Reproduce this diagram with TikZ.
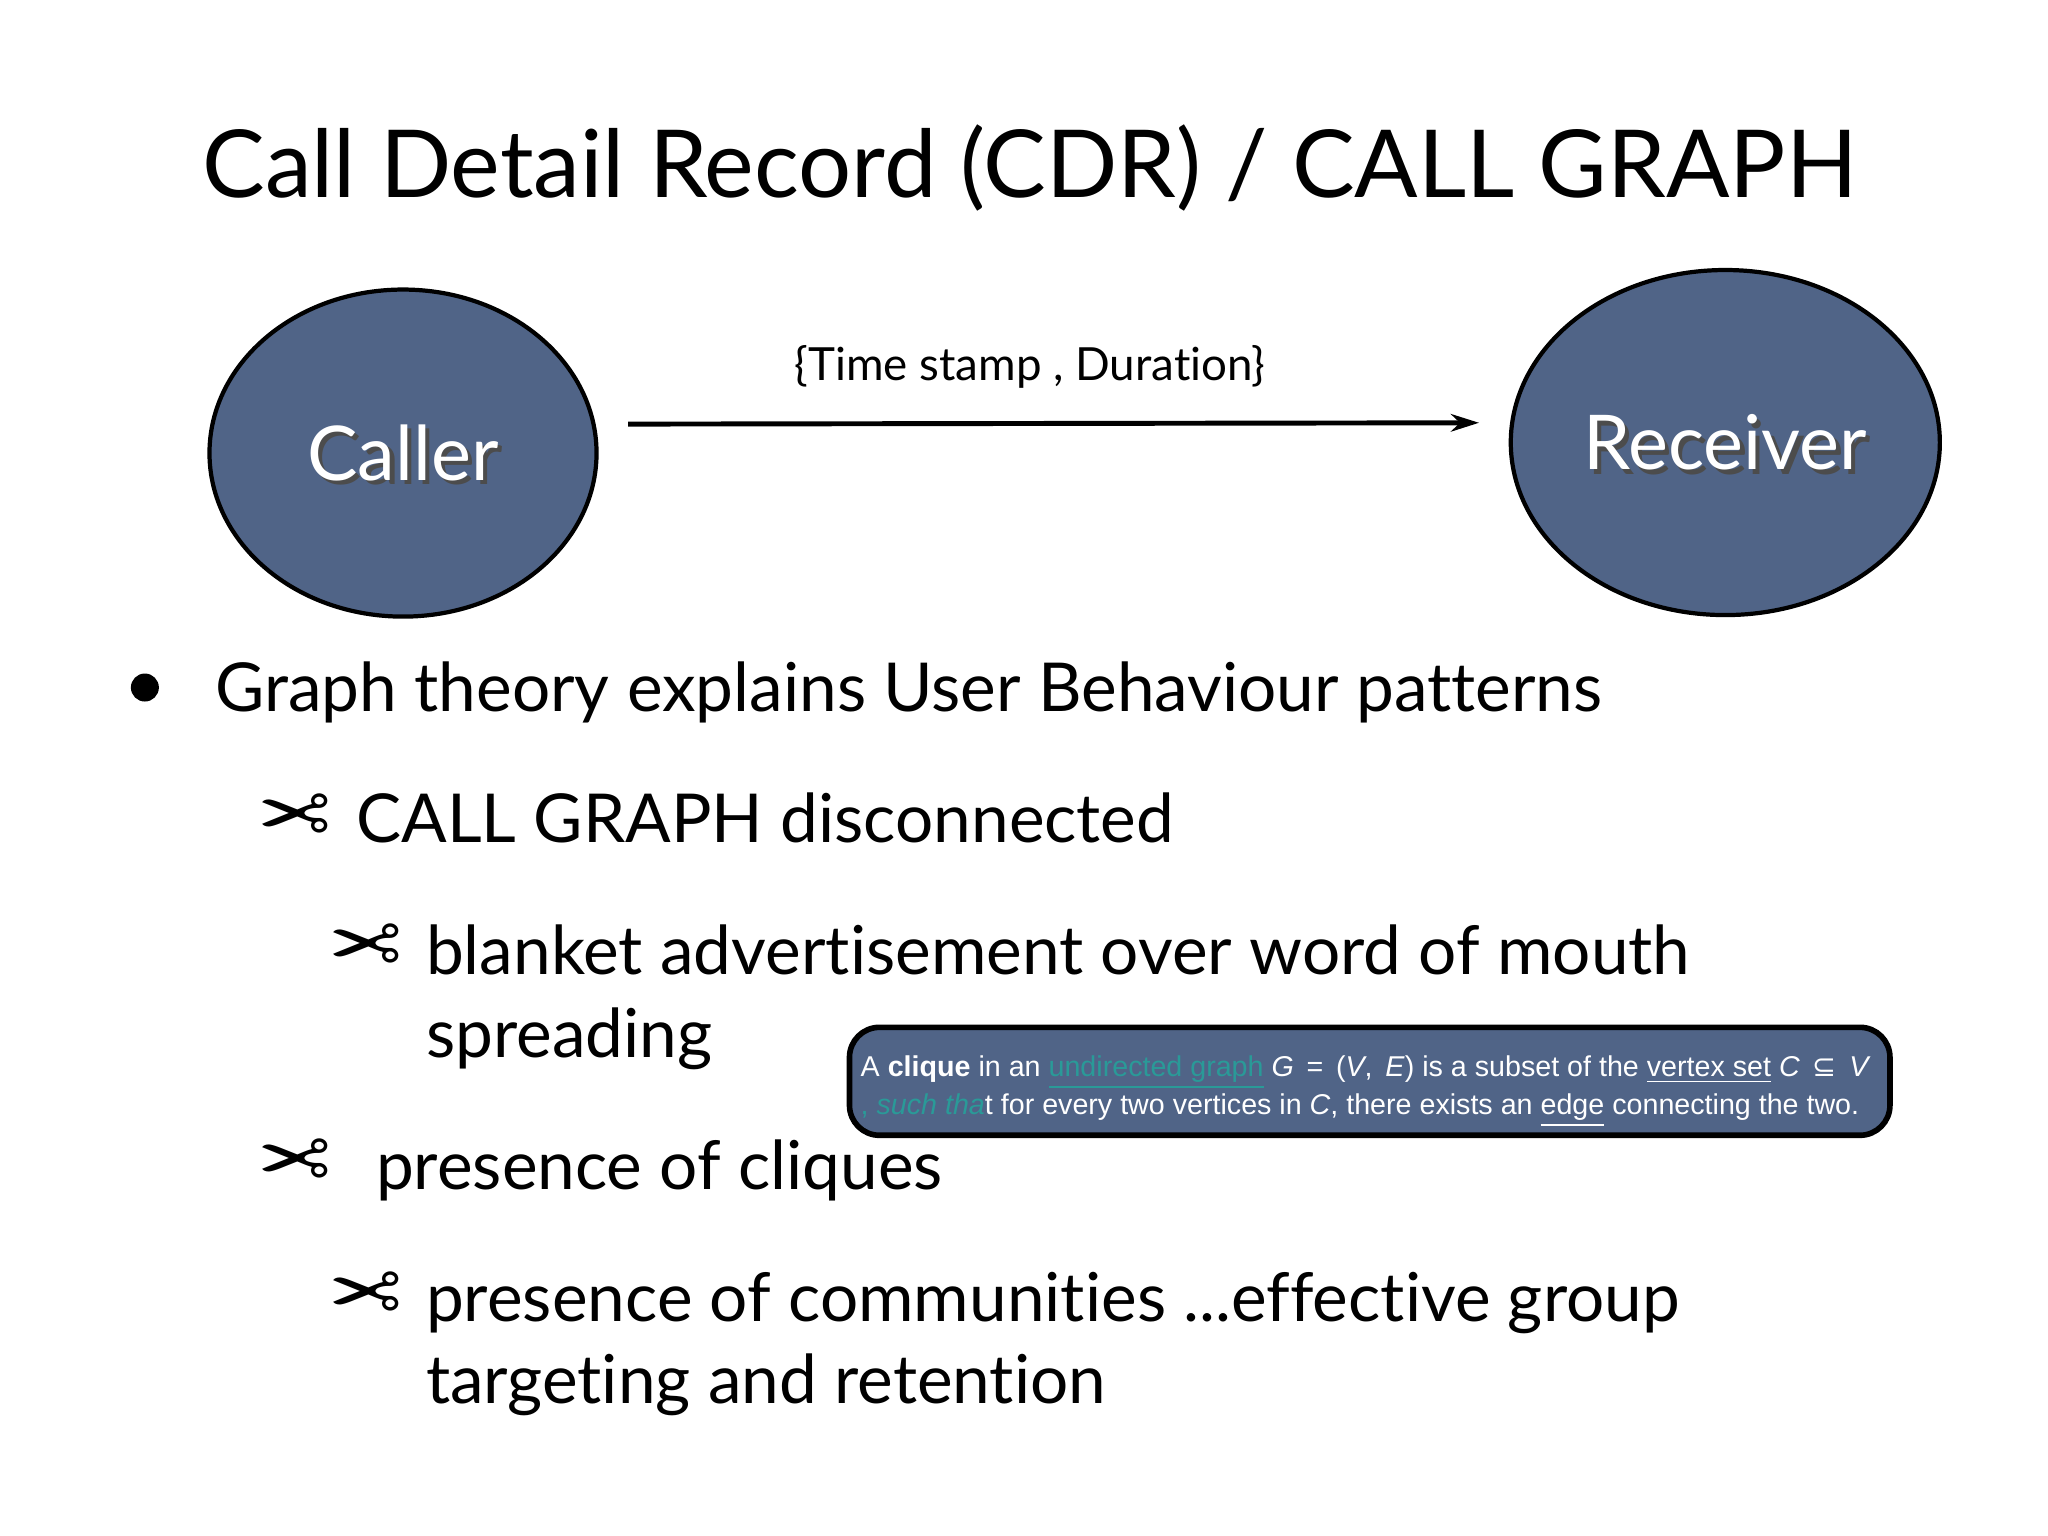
\documentclass[tikz,border=0pt]{standalone}
\usepackage{fontspec}
\setmainfont{Lato}[Ligatures={NoCommon}]
\newfontfamily\arialf{Liberation Sans}
\newfontfamily\djv{DejaVu Sans}
\usetikzlibrary{shapes.geometric,arrows.meta,shadows}
\definecolor{slate}{HTML}{506487}
\definecolor{teal2}{HTML}{2A9A98}
\tikzset{
  ell/.style={ellipse,draw=black,line width=1.2pt,fill=slate,inner sep=0pt},
  lbl/.style={text=white,font=\fontsize{21.5}{26}\selectfont},
  body/.style={anchor=base west,inner sep=0pt,font=\fontsize{19.2}{24}\selectfont},
  sc/.style={anchor=center,inner sep=0pt,font=\djv\fontsize{25}{25}\selectfont},
  boxt/.style={anchor=base west,inner sep=0pt,text=white,font=\arialf\fontsize{8.15}{10}\selectfont}
}
\begin{document}
\begin{tikzpicture}[x=0.01317cm,y=-0.01317cm]
\useasboundingbox[fill=white] (0,0) rectangle (1555,1166);
\node[anchor=base,inner sep=0pt,font=\fontsize{26.7}{32}\selectfont] (title) at (782,150) {Call Detail Record (CDR) / CALL GRAPH};
\node[ell,minimum width=3.87cm,minimum height=3.27cm] (caller) at (306,344) {};
\node[lbl] at ([xshift=1.2pt,yshift=-1.2pt]caller.center) {\textcolor{black!70}{Caller}};
\node[lbl] (callert) at (caller.center) {Caller};
\node[ell,minimum width=4.29cm,minimum height=3.45cm] (recv) at (1310,336) {};
\node[lbl] at ([xshift=1.2pt,yshift=-1.2pt]recv.center) {\textcolor{black!70}{Receiver}};
\node[lbl] (recvt) at (recv.center) {Receiver};
\coordinate (a1) at (477,322);
\coordinate (a2) at (1123,321);
\draw[line width=1.4pt,-{Stealth[length=8pt,width=5pt]}] (a1) -- (a2);
\node[anchor=base,inner sep=0pt,font=\fontsize{13}{16}\selectfont] (ts) at (782,289) {\{Time stamp , Duration\}};
\node[circle,fill=black,inner sep=0pt,minimum size=0.28cm] (bul) at (110,522) {};
\node[body] (l1) at (163,540) {Graph theory explains User Behaviour patterns};
\node[sc] (s1) at (224,622) {\reflectbox{✂}};
\node[body] (l2) at (270,640) {CALL GRAPH disconnected};
\node[sc] (s2) at (278,721) {\reflectbox{✂}};
\node[body] (l3) at (323,740) {blanket advertisement over word of mouth};
\node[body] (l3b) at (323,803) {spreading};
\node[sc] (s3) at (224,884) {\reflectbox{✂}};
\node[body] (l4) at (285,903) {presence of cliques};
\node[sc] (s4) at (278,985) {\reflectbox{✂}};
\node[body] (l5) at (323,1003) {presence of communities ...effective group};
\node[body] (l5b) at (323,1066) {targeting and retention};
\draw[line width=1.6pt,fill=slate,rounded corners=0.3cm] (645,780) rectangle (1435,862);
\node[boxt] (c1) at (653,817) {A \textbf{clique} in an \textcolor{teal2}{\underline{undirected graph}} \textit{G}\, =\, (\textit{V},\, \textit{E}) is a subset of the \underline{vertex set} \textit{C}\, {\djv ⊆}\, \textit{V}};
\node[boxt] (c2) at (653,846) {\textcolor{teal2}{, \textit{such tha}}t for every two vertices in \textit{C}, there exists an \underline{edge} connecting the two.};
\end{tikzpicture}
\end{document}
